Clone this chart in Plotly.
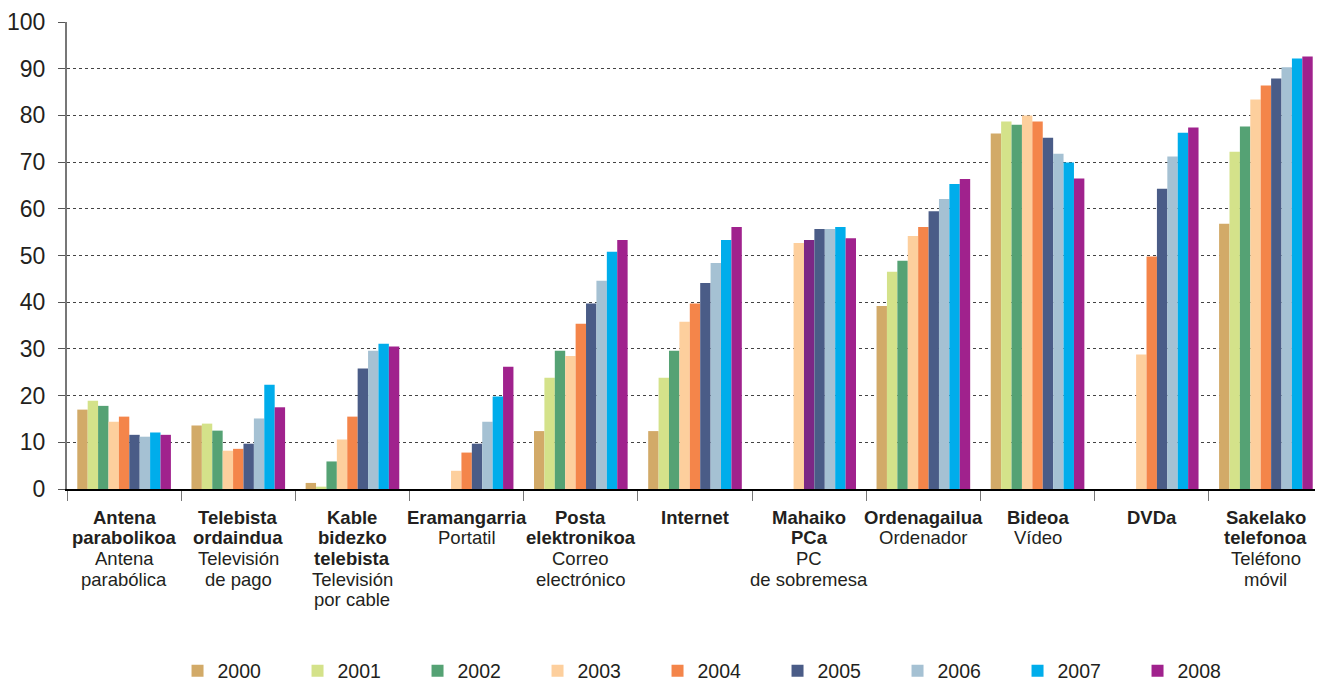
import plotly.graph_objects as go

categorias = ["Antena parabolikoa", "Telebista ordaindua", "Kable bidezko telebista",
              "Eramangarria", "Posta elektronikoa", "Internet", "Mahaiko PCa",
              "Ordenagailua", "Bideoa", "DVDa", "Sakelako telefonoa"]

# etiquetas del eje: lineas en euskera (negrita) y en castellano
etiquetas_eus = [["Antena", "parabolikoa"], ["Telebista", "ordaindua"],
                 ["Kable", "bidezko", "telebista"], ["Eramangarria"],
                 ["Posta", "elektronikoa"], ["Internet"], ["Mahaiko", "PCa"],
                 ["Ordenagailua"], ["Bideoa"], ["DVDa"], ["Sakelako", "telefonoa"]]
etiquetas_es = [["Antena", "parabólica"], ["Televisión", "de pago"],
                ["Televisión", "por cable"], ["Portatil"],
                ["Correo", "electrónico"], [], ["PC", "de sobremesa"],
                ["Ordenador"], ["Vídeo"], [], ["Teléfono", "móvil"]]

anios = ["2000", "2001", "2002", "2003", "2004", "2005", "2006", "2007", "2008"]

v2000 = [17.0, 13.6, 1.3, None, 12.4, 12.4, None, 39.2, 76.1, None, 56.8]
v2001 = [18.9, 14.0, 0.5, None, 23.8, 23.8, None, 46.5, 78.7, None, 72.2]
v2002 = [17.8, 12.5, 5.9, None, 29.6, 29.6, None, 48.9, 78.0, None, 77.6]
v2003 = [14.4, 8.2, 10.6, 3.9, 28.5, 35.8, 52.7, 54.2, 80.0, 28.8, 83.4]
v2004 = [15.5, 8.6, 15.5, 7.8, 35.4, 39.7, 53.3, 56.1, 78.7, 49.8, 86.4]
v2005 = [11.6, 9.7, 25.8, 9.7, 39.7, 44.1, 55.7, 59.5, 75.2, 64.3, 87.9]
v2006 = [11.2, 15.1, 29.6, 14.4, 44.6, 48.4, 55.7, 62.1, 71.8, 71.2, 90.3]
v2007 = [12.1, 22.3, 31.1, 19.8, 50.8, 53.3, 56.1, 65.3, 69.9, 76.3, 92.2]
v2008 = [11.6, 17.5, 30.5, 26.2, 53.3, 56.1, 53.7, 66.4, 66.5, 77.4, 92.6]

series = [v2000, v2001, v2002, v2003, v2004, v2005, v2006, v2007, v2008]
colores = ["#D2AA68", "#D4E28A", "#55A274", "#FDCF9D", "#F4854A",
           "#4A5C87", "#A5C1D3", "#00ADEB", "#A0228D"]

fig = go.Figure()
for anio, valores, color in zip(anios, series, colores):
    color_barras = [color] * len(categorias)
    if anio == "2004":
        # en el original esta barra aparece en morado oscuro
        color_barras[6] = "#7B2885"
    fig.add_trace(go.Bar(x=categorias, y=valores, name=anio,
                         marker=dict(color=color_barras, line=dict(width=0))))

# la pagina tiene 8px de margen en el body
ancho, alto_fig = 1315, 673
m_izq, m_sup, m_inf = 59, 14, 192
alto = alto_fig - m_sup - m_inf

# etiquetas del eje x como anotaciones (interlineado mas compacto)
for cat, eus, es in zip(categorias, etiquetas_eus, etiquetas_es):
    lineas = ["<b>" + t + "</b>" for t in eus] + es
    for i, txt in enumerate(lineas):
        centro = 517 + 20.7 * i
        fig.add_annotation(x=cat, xref="x", y=(489 - centro) / alto, yref="paper",
                           text=txt, showarrow=False, xanchor="center", yanchor="middle",
                           font=dict(size=18.5, color="#231F20"))

fig.update_layout(
    width=ancho, height=alto_fig,
    margin=dict(l=m_izq, r=0, t=m_sup, b=m_inf, autoexpand=False),
    paper_bgcolor="white", plot_bgcolor="white",
    barmode="group", bargap=0.18, bargroupgap=0,
    font=dict(family="Liberation Sans, Arial, sans-serif", color="#231F20", size=16),
    legend=dict(orientation="h", x=0.088, xanchor="left", y=-0.39, yanchor="middle",
                font=dict(size=19.5), entrywidth=75, itemwidth=30),
)
fig.update_xaxes(
    automargin=False,
    showline=True, linecolor="black", linewidth=1.5,
    ticks="outside", tickson="boundaries", ticklen=10, tickcolor="#777777",
    showticklabels=False, showgrid=False,
)
fig.update_yaxes(
    automargin=False,
    range=[0, 100], dtick=10,
    showline=True, linecolor="#777777", linewidth=2,
    ticks="outside", ticklen=7, tickcolor="#555555",
    tickfont=dict(size=23, color="#231F20"), ticklabelstandoff=8,
    showgrid=True, gridcolor="#444444", griddash="dot", gridwidth=1,
    zeroline=False,
)

fig.write_html("out.html")
